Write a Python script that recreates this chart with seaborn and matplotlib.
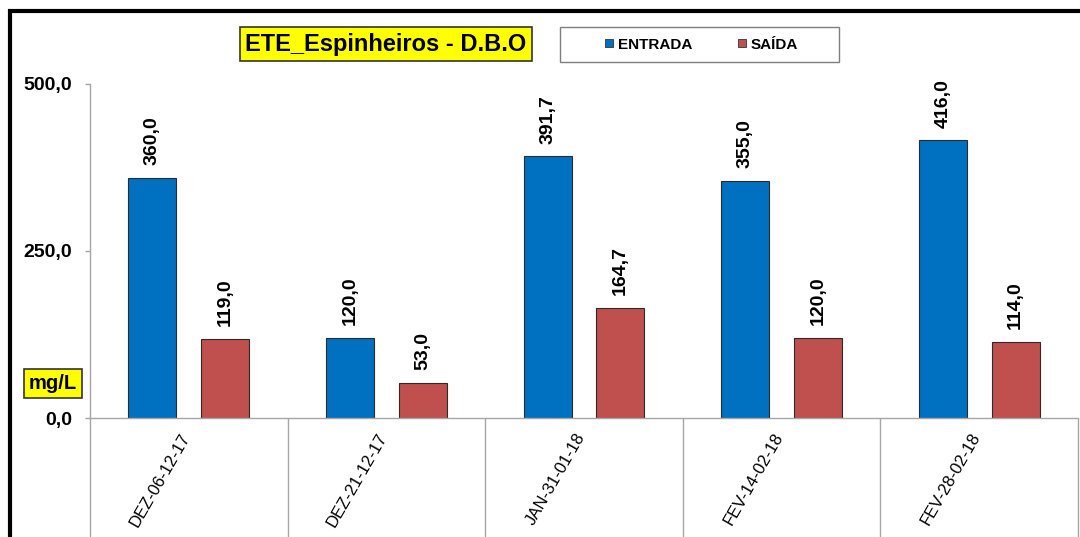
import numpy as np
import pandas as pd
import matplotlib
matplotlib.use("Agg")
import matplotlib.pyplot as plt
import matplotlib.transforms as mtransforms
from matplotlib.patches import Rectangle
from matplotlib.lines import Line2D
import seaborn as sns

# ---- DATA ----
dates = ["DEZ-06-12-17", "DEZ-21-12-17", "JAN-31-01-18", "FEV-14-02-18", "FEV-28-02-18"]
series_names = ["ENTRADA", "SAÍDA"]
entrada = [360.0, 120.0, 391.7, 355.0, 416.0]
saida = [119.0, 53.0, 164.7, 120.0, 114.0]
y_ticks = [0, 250, 500]
y_tick_labels = ["0,0", "250,0", "500,0"]
title = "ETE_Espinheiros - D.B.O"
unit = "mg/L"

colors = ["#0070C0", "#C0504D"]
gray = "#A6A6A6"

df = pd.DataFrame({
    "data": dates * 2,
    "serie": [series_names[0]] * len(dates) + [series_names[1]] * len(dates),
    "valor": entrada + saida,
})

sns.set_theme(style="white")
plt.rcParams["font.family"] = ["Liberation Sans", "DejaVu Sans"]
plt.rcParams["text.color"] = "black"
plt.rcParams["xtick.labelcolor"] = "black"
plt.rcParams["ytick.labelcolor"] = "black"

fig = plt.figure(figsize=(10.8, 5.37), dpi=100)
ax = fig.add_axes([0.0833, 0.2216, 0.9148, 0.622])

sns.barplot(data=df, x="data", y="valor", hue="serie", order=dates, hue_order=series_names,
            palette=colors, saturation=1, width=0.736, gap=0.34, edgecolor="#2b2b2b",
            linewidth=0.8, legend=False, ax=ax)

# value labels
for cont in ax.containers:
    vals = [b.get_height() for b in cont]
    ax.bar_label(cont, labels=[f"{v:.1f}".replace(".", ",") for v in vals],
                 rotation=90, padding=9, fontsize=14, fontweight="bold", color="black")

ax.set_ylim(0, 500)
ax.set_xlim(-0.5, len(dates) - 0.5)
ax.set_yticks(y_ticks)
ax.set_yticklabels(y_tick_labels, fontsize=14, fontweight="bold", color="black")
ax.tick_params(axis="y", direction="out", length=3.6, width=1, color=gray, pad=9, left=True)

# category separators as long major ticks, labels on minor ticks
ax.set_xticks(np.arange(-0.5, len(dates), 1.0))
ax.set_xticklabels([])
ax.tick_params(axis="x", which="major", direction="out", length=86, width=1, color=gray, bottom=True)
ax.set_xticks(range(len(dates)), minor=True)
ax.set_xticklabels(dates, minor=True, rotation=60, ha="right", va="top", fontsize=12, color="black")
ax.tick_params(axis="x", which="minor", length=0, pad=9)
shift = mtransforms.ScaledTranslation(4 / 100, 0, fig.dpi_scale_trans)
for lbl in ax.get_xticklabels(minor=True):
    lbl.set_transform(lbl.get_transform() + shift)

ax.set_xlabel("")
ax.set_ylabel("")
for side in ["top", "right"]:
    ax.spines[side].set_visible(False)
for side in ["left", "bottom"]:
    ax.spines[side].set_color(gray)
    ax.spines[side].set_linewidth(1)

# title box
fig.text(0.3574, 0.918, title, ha="center", va="center", fontsize=17, fontweight="bold",
         color="black",
         bbox=dict(boxstyle="square,pad=0.22", facecolor="#FFFF00", edgecolor="#333333", linewidth=1.2))

# unit box
fig.text(0.049, 0.285, unit, ha="center", va="center", fontsize=14.5, fontweight="bold",
         color="black",
         bbox=dict(boxstyle="square,pad=0.25", facecolor="#FFFF00", edgecolor="#333333", linewidth=1.2))

# legend
fig.patches.append(Rectangle((560 / 1080, 1 - 62 / 537), 279 / 1080, 35 / 537,
                             transform=fig.transFigure, facecolor="white",
                             edgecolor="#7f7f7f", linewidth=1))
handles = [Line2D([], [], marker="s", linestyle="none", markersize=6,
                  markerfacecolor=c, markeredgecolor="#333333", markeredgewidth=0.6)
           for c in colors]
leg = fig.legend(handles, series_names, loc="center", bbox_to_anchor=(0.6495, 0.917),
                 ncol=2, frameon=False, handlelength=0.6, handletextpad=0.3,
                 columnspacing=2.9, prop={"size": 11, "weight": "bold"})
for t in leg.get_texts():
    t.set_color("black")

# outer border
fig.patches.append(Rectangle((0.0097, -0.1), 1.2, 1.0795, transform=fig.transFigure,
                             facecolor="none", edgecolor="black", linewidth=3, clip_on=False))

fig.savefig("out.png", dpi=100)
